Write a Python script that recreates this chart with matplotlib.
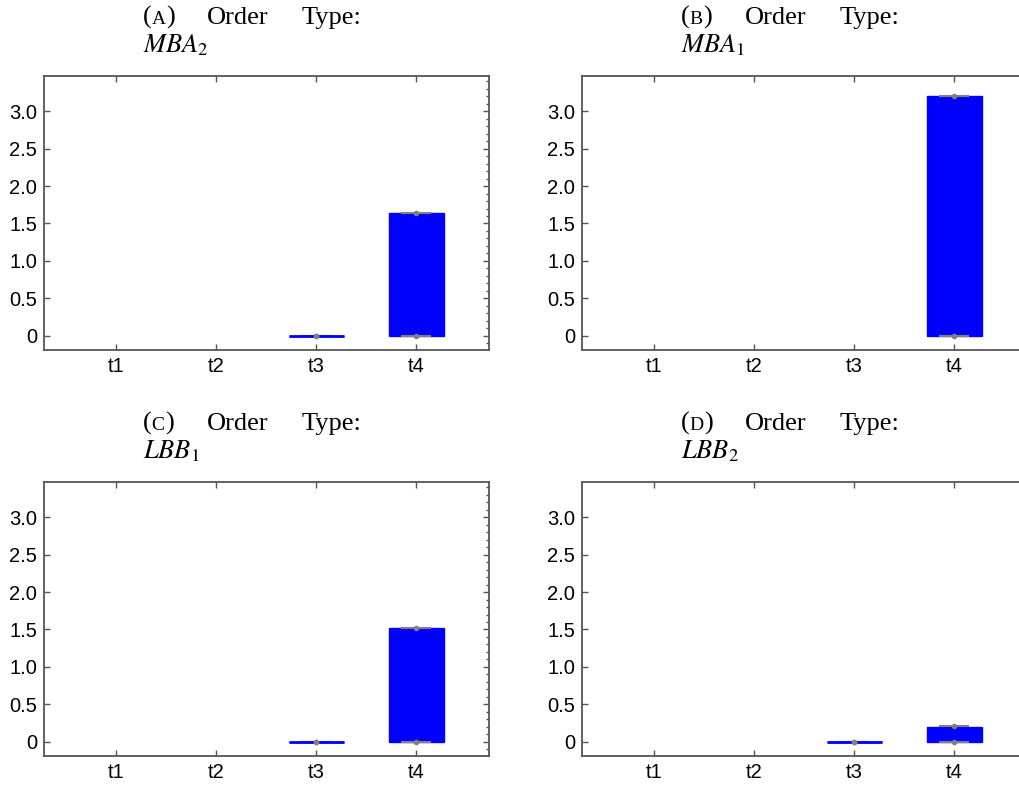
import numpy as np
import matplotlib
matplotlib.use('Agg')
import matplotlib.pyplot as plt
from matplotlib.ticker import MultipleLocator

# categories on the x axis
categories = ['t1', 't2', 't3', 't4']
ytick_values = [0, 0.5, 1.0, 1.5, 2.0, 2.5, 3.0]
ytick_labels = ['0', '0.5', '1.0', '1.5', '2.0', '2.5', '3.0']

# panel captions
panel_letters = ['A', 'B', 'C', 'D']
order_types = [r'$MBA_2$', r'$MBA_1$', r'$LBB_1$', r'$LBB_2$']

# five-number summaries per category: (low, q1, median, q3, high), None = no box
mba2_stats = [None, None, (0.0, 0.0, 0.0, 0.0, 0.0), (0.0, 0.0, 0.82, 1.64, 1.64)]
mba1_stats = [None, None, None, (0.0, 0.0, 1.60, 3.20, 3.20)]
lbb1_stats = [None, None, (0.0, 0.0, 0.0, 0.0, 0.0), (0.0, 0.0, 0.76, 1.52, 1.52)]
lbb2_stats = [None, None, (0.0, 0.0, 0.0, 0.0, 0.0), (0.0, 0.0, 0.10, 0.20, 0.21)]
all_stats = [mba2_stats, mba1_stats, lbb1_stats, lbb2_stats]

plt.rcParams['mathtext.fontset'] = 'stix'

W, H = 1019, 785
fig = plt.figure(figsize=(W / 100, H / 100), dpi=100)
renderer = fig.canvas.get_renderer()

# axes corners in pixels (left, top)
corners = [(44, 76), (582, 76), (44, 482), (582, 482)]
ax_w, ax_h = 445, 274

spine_col = '#555555'
title_font = 'Liberation Serif'


def fig_text(x, y, s, **kw):
    return fig.text(x / W, 1 - y / H, s, va='baseline', ha='left', **kw)


def draw_pieces(x, y, pieces):
    # write pieces one after another (for the small caps letter)
    for s, size in pieces:
        t = fig_text(x, y, s, fontsize=size, family=title_font)
        x = t.get_window_extent(renderer).x1


for k in range(4):
    left, top = corners[k]
    ax = fig.add_axes([left / W, 1 - (top + ax_h) / H, ax_w / W, ax_h / H])

    stats = []
    pos = []
    for i, s in enumerate(all_stats[k]):
        if s is None:
            continue
        lo, q1, med, q3, hi = s
        stats.append(dict(whislo=lo, q1=q1, med=med, q3=q3, whishi=hi, fliers=[]))
        pos.append(i + 1)

    ax.bxp(stats, positions=pos, widths=0.55, patch_artist=True, showfliers=False,
           boxprops=dict(facecolor='blue', edgecolor='blue', linewidth=1),
           medianprops=dict(color='blue', linewidth=2),
           whiskerprops=dict(color='gray', linewidth=1.5),
           capprops=dict(color='gray', linewidth=1.5))
    lows = [s['whislo'] for s in stats]
    highs = [s['whishi'] for s in stats]
    ax.plot(pos, lows, 'o', color='gray', ms=3, zorder=5)
    ax.plot(pos, highs, 'o', color='gray', ms=3, zorder=5)

    ax.set_xticks(range(1, len(categories) + 1))
    ax.set_xticklabels(categories)
    ax.set_xlim(0.28, 4.73)
    ax.set_ylim(-0.19, 3.47)
    ax.set_yticks(ytick_values)
    ax.set_yticklabels(ytick_labels)
    ax.yaxis.set_minor_locator(MultipleLocator(0.1))

    ax.tick_params(which='major', direction='in', top=True, right=True, length=4,
                   width=1, color=spine_col, labelsize=14.5, pad=5)
    ax.tick_params(which='minor', direction='in', left=False, right=True, length=2,
                   width=1, color=spine_col)
    for lab in ax.get_xticklabels() + ax.get_yticklabels():
        lab.set_family('Liberation Sans')
    for sp in ax.spines.values():
        sp.set_color(spine_col)
        sp.set_linewidth(1.3)

    # caption above the panel
    base = top - 52
    draw_pieces(left + 99, base, [('(', 19), (panel_letters[k], 14), (')', 19)])
    fig_text(left + 163, base, 'Order', fontsize=19, family=title_font)
    fig_text(left + 258, base, 'Type:', fontsize=19, family=title_font)
    fig_text(left + 99, base + 28, order_types[k], fontsize=19)

fig.savefig('out.png', dpi=100)
